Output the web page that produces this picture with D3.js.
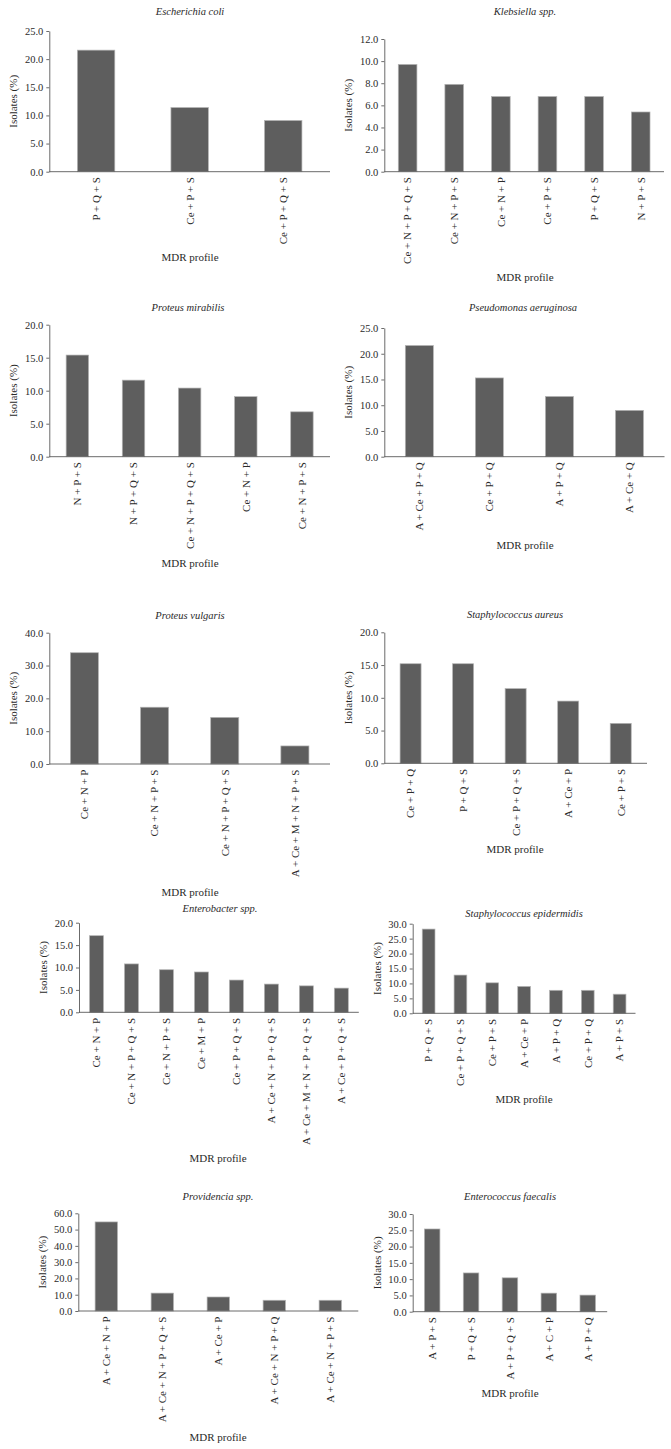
<!DOCTYPE html>
<html>
<head>
<meta charset="utf-8">
<script src="https://cdn.jsdelivr.net/npm/d3@7/dist/d3.min.js"></script>
<style>
html, body { margin: 0; padding: 0; background: #fff; }
svg { display: block; }
text { font-family: "Liberation Serif", "DejaVu Serif", serif; fill: #2a2a2a; }
</style>
</head>
<body>
<svg id="chart" width="671" height="1449"></svg>
<script>
// ---- Data ----
const ecoliCats = ["P + Q + S", "Ce + P + S", "Ce + P + Q + S"];
const ecoliVals = [21.6, 11.4, 9.1];

const klebCats = ["Ce + N + P + Q + S", "Ce + N + P + S", "Ce + N + P", "Ce + P + S", "P + Q + S", "N + P + S"];
const klebVals = [9.7, 7.9, 6.8, 6.8, 6.8, 5.4];

const mirabCats = ["N + P + S", "N + P + Q + S", "Ce + N + P + Q + S", "Ce + N + P", "Ce + N + P + S"];
const mirabVals = [15.4, 11.6, 10.4, 9.1, 6.8];

const pseudoCats = ["A + Ce + P + Q", "Ce + P + Q", "A + P + Q", "A + Ce + Q"];
const pseudoVals = [21.6, 15.3, 11.7, 9.0];

const vulgCats = ["Ce + N + P", "Ce + N + P + S", "Ce + N + P + Q + S", "A + Ce + M + N + P + S"];
const vulgVals = [33.9, 17.3, 14.2, 5.5];

const saurCats = ["Ce + P + Q", "P + Q + S", "Ce + P + Q + S", "A + Ce + P", "Ce + P + S"];
const saurVals = [15.2, 15.2, 11.4, 9.5, 6.1];

const enteroCats = ["Ce + N + P", "Ce + N + P + Q + S", "Ce + N + P + S", "Ce + M + P", "Ce + P + Q + S", "A + Ce + N + P + Q + S", "A + Ce + M + N + P + Q + S", "A + Ce + P + Q + S"];
const enteroVals = [17.1, 10.8, 9.5, 9.0, 7.2, 6.3, 5.9, 5.4];

const sepiCats = ["P + Q + S", "Ce + P + Q + S", "Ce + P + S", "A + Ce + P", "A + P + Q", "Ce + P + Q", "A + P + S"];
const sepiVals = [28.2, 12.8, 10.2, 9.0, 7.7, 7.7, 6.4];

const provCats = ["A + Ce + N + P", "A + Ce + N + P + Q + S", "A + Ce + P", "A + Ce + N + P + Q", "A + Ce + N + P + S"];
const provVals = [54.7, 11.0, 8.6, 6.6, 6.6];

const faecCats = ["A + P + S", "P + Q + S", "A + P + Q + S", "A + C + P", "A + P + Q"];
const faecVals = [25.4, 11.9, 10.4, 5.7, 5.1];

const yMaxes = [25, 12, 20, 25, 40, 20, 20, 30, 60, 30];
const yStepsTicks = [5, 2, 5, 5, 10, 5, 5, 5, 10, 5];
const titles = ["Escherichia coli", "Klebsiella spp.", "Proteus mirabilis", "Pseudomonas aeruginosa",
  "Proteus vulgaris", "Staphylococcus aureus", "Enterobacter spp.", "Staphylococcus epidermidis",
  "Providencia spp.", "Enterococcus faecalis"];
const xAxisTitle = "MDR profile";
const yAxisTitle = "Isolates (%)";

// ---- Layout (positions only) ----
const layout = [
  { x0: 49.3,  x1: 330,   yTop: 31,     yBot: 171.7,  tx: 190, ty: 11,     lx: 190, ly: 257 },
  { x0: 384.3, x1: 664,   yTop: 39,     yBot: 171.7,  tx: 525, ty: 11,     lx: 525, ly: 277 },
  { x0: 49.3,  x1: 330,   yTop: 324.7,  yBot: 456.7,  tx: 188, ty: 307.3,  lx: 190, ly: 563.3 },
  { x0: 384.3, x1: 664.5, yTop: 328,    yBot: 456.7,  tx: 523, ty: 307,    lx: 525, ly: 545 },
  { x0: 49.3,  x1: 330,   yTop: 632.7,  yBot: 764,    tx: 190, ty: 615.7,  lx: 190, ly: 891.7 },
  { x0: 384.3, x1: 647,   yTop: 632.3,  yBot: 763.3,  tx: 515, ty: 614.3,  lx: 515, ly: 849.3 },
  { x0: 79,    x1: 358.8, yTop: 922.7,  yBot: 1012.3, tx: 220, ty: 908.3,  lx: 218, ly: 1158.3 },
  { x0: 412.7, x1: 635.5, yTop: 923.7,  yBot: 1013.3, tx: 524, ty: 913.3,  lx: 524, ly: 1099 },
  { x0: 78.3,  x1: 358.3, yTop: 1213.3, yBot: 1311,   tx: 218, ty: 1196.7, lx: 218, ly: 1436.7 },
  { x0: 412.7, x1: 607.2, yTop: 1214,   yBot: 1311.7, tx: 510, ty: 1196.7, lx: 510, ly: 1393.3 }
];

const catsList = [ecoliCats, klebCats, mirabCats, pseudoCats, vulgCats, saurCats, enteroCats, sepiCats, provCats, faecCats];
const valsList = [ecoliVals, klebVals, mirabVals, pseudoVals, vulgVals, saurVals, enteroVals, sepiVals, provVals, faecVals];

const FS_TICK = 10.5, FS_CAT = 11, FS_LAB = 11, FS_TITLE = 10.5;
const svg = d3.select("#chart");
svg.append("rect").attr("width", 671).attr("height", 1449).attr("fill", "#fff");

catsList.forEach((cats, i) => {
  const L = layout[i];
  const vals = valsList[i];
  const g = svg.append("g");

  const x = d3.scaleBand().domain(cats).range([L.x0, L.x1]).paddingInner(0.6).paddingOuter(0.3);
  const y = d3.scaleLinear().domain([0, yMaxes[i]]).range([L.yBot, L.yTop]);
  const tickVals = d3.range(0, yMaxes[i] + 1e-9, yStepsTicks[i]);

  // bars
  g.selectAll("rect.bar").data(cats).enter().append("rect")
    .attr("class", "bar")
    .attr("x", d => x(d))
    .attr("width", x.bandwidth())
    .attr("y", (d, j) => y(vals[j]))
    .attr("height", (d, j) => y(0) - y(vals[j]))
    .attr("fill", "#5e5e5e")
    .attr("stroke", "#b4b4b4")
    .attr("stroke-width", 0.7);

  // y axis
  const ya = g.append("g").attr("transform", `translate(${L.x0},0)`)
    .call(d3.axisLeft(y).tickValues(tickVals).tickFormat(d3.format(".1f")).tickSize(3).tickSizeOuter(0).tickPadding(3));
  ya.selectAll("path, line").attr("stroke", "#5a5a5a").attr("stroke-width", 0.9);
  ya.selectAll("text").style("font-family", "Liberation Serif, serif").style("font-size", FS_TICK + "px").attr("fill", "#2a2a2a");

  // x axis
  const xa = g.append("g").attr("transform", `translate(0,${L.yBot})`)
    .call(d3.axisBottom(x).tickSize(0).tickSizeOuter(0));
  xa.select("path.domain").attr("stroke", "#5a5a5a").attr("stroke-width", 0.9)
    .attr("d", `M${L.x0},0H${L.x1}`);
  xa.selectAll("text")
    .attr("y", 0).attr("x", -5.5).attr("dy", "0.35em")
    .attr("transform", "rotate(-90)")
    .style("text-anchor", "end")
    .style("font-family", "Liberation Serif, serif")
    .style("font-size", FS_CAT + "px")
    .attr("fill", "#2a2a2a");

  // title
  g.append("text").attr("x", L.tx).attr("y", L.ty).attr("dy", "0.35em")
    .attr("text-anchor", "middle").style("font-style", "italic").style("font-size", FS_TITLE + "px")
    .text(titles[i]);

  // y label
  const yc = (L.yTop + L.yBot) / 2;
  g.append("text").attr("transform", `translate(${L.x0 - 36},${yc}) rotate(-90)`)
    .attr("dy", "0.35em").attr("text-anchor", "middle").style("font-size", FS_LAB + "px")
    .text(yAxisTitle);

  // x label
  g.append("text").attr("x", L.lx).attr("y", L.ly).attr("dy", "0.35em")
    .attr("text-anchor", "middle").style("font-size", FS_LAB + "px")
    .text(xAxisTitle);
});
</script>
</body>
</html>
